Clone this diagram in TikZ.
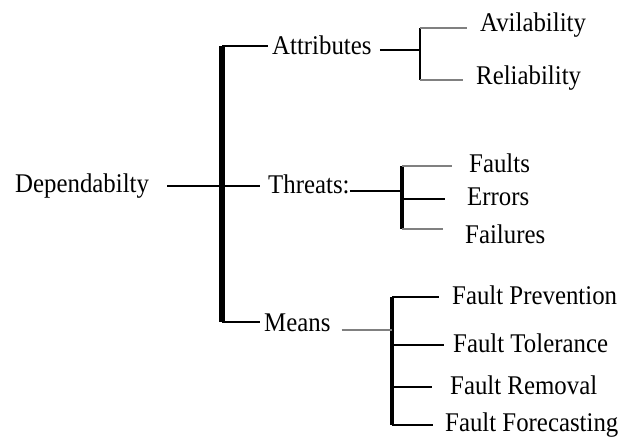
\documentclass[tikz,border=0pt]{standalone}
\usepackage{fontspec}
\setmainfont{Liberation Serif}[FakeStretch=0.92]
\begin{document}
\begin{tikzpicture}[x=1pt,y=-1pt,
  lbl/.style={anchor=base west, inner sep=0pt, font=\fontsize{27}{30}\selectfont},
  mainbar/.style={line width=5.5pt},
  subbar/.style={line width=3.5pt},
  thinbar/.style={line width=2.8pt},
  blk/.style={line width=1.4pt, draw=black},
  gry/.style={line width=1.1pt, draw=black!50}]
\useasboundingbox[fill=white] (0,0) rectangle (623,439);

% text nodes
\node[lbl] (dep)   at (15,192)  {Dependabilty};
\node[lbl] (attr)  at (272,54)  {Attributes};
\node[lbl] (thr)   at (268,193) {Threats:};
\node[lbl] (means) at (264,331) {Means};
\node[lbl] (avail) at (480,31)  {Avilability};
\node[lbl] (rel)   at (476,84)  {Reliability};
\node[lbl] (flt)   at (469,172) {Faults};
\node[lbl] (err)   at (467,205) {Errors};
\node[lbl] (fail)  at (465,243) {Failures};
\node[lbl] (fp)    at (452,304) {Fault Prevention};
\node[lbl] (ft)    at (453,352) {Fault Tolerance};
\node[lbl] (fr)    at (450,394) {Fault Removal};
\node[lbl] (ff)    at (445,431) {Fault Forecasting};

% main bar
\coordinate (mtop) at (222,46);
\coordinate (mmid) at (222,186);
\coordinate (mbot) at (222,322);
\draw[mainbar] (mtop) -- (mbot);
\draw[blk, shorten <=18pt, shorten >=8pt] (mmid -| dep.east) -- (mmid -| thr.west);
\draw[blk, shorten >=4pt] (mtop) -- (mtop -| attr.west);
\draw[blk, shorten >=4pt] (mbot) -- (mbot -| means.west);

% attributes group
\coordinate (atop) at (420,28);
\coordinate (ajun) at (420,50);
\coordinate (abot) at (420,80);
\draw[thinbar] (atop) -- (abot);
\draw[blk, shorten <=8pt] (ajun -| attr.east) -- (ajun);
\draw[gry, shorten >=13pt] (atop) -- (atop -| avail.west);
\draw[gry, shorten >=13pt] (abot) -- (abot -| rel.west);

% threats group
\coordinate (ttop) at (402,166);
\coordinate (tjun) at (402,191);
\coordinate (terr) at (402,199);
\coordinate (tbot) at (402,229);
\draw[subbar] (ttop) -- (tbot);
\draw[blk] (tjun -| thr.east) -- (tjun);
\draw[gry, shorten >=17pt] (ttop) -- (ttop -| flt.west);
\draw[blk, shorten >=22pt] (terr) -- (terr -| err.west);
\draw[gry, shorten >=22pt] (tbot) -- (tbot -| fail.west);

% means group
\coordinate (qtop) at (392,297);
\coordinate (qjun) at (392,330);
\coordinate (qft)  at (392,345);
\coordinate (qfr)  at (392,387);
\coordinate (qbot) at (392,425);
\draw[subbar] (qtop) -- (qbot);
\draw[gry, shorten <=11pt] (qjun -| means.east) -- (qjun);
\draw[blk, shorten >=13pt] (qtop) -- (qtop -| fp.west);
\draw[blk, shorten >=9pt]  (qft) -- (qft -| ft.west);
\draw[blk, shorten >=18pt] (qfr) -- (qfr -| fr.west);
\draw[blk, shorten >=12pt] (qbot) -- (qbot -| ff.west);
\end{tikzpicture}
\end{document}
